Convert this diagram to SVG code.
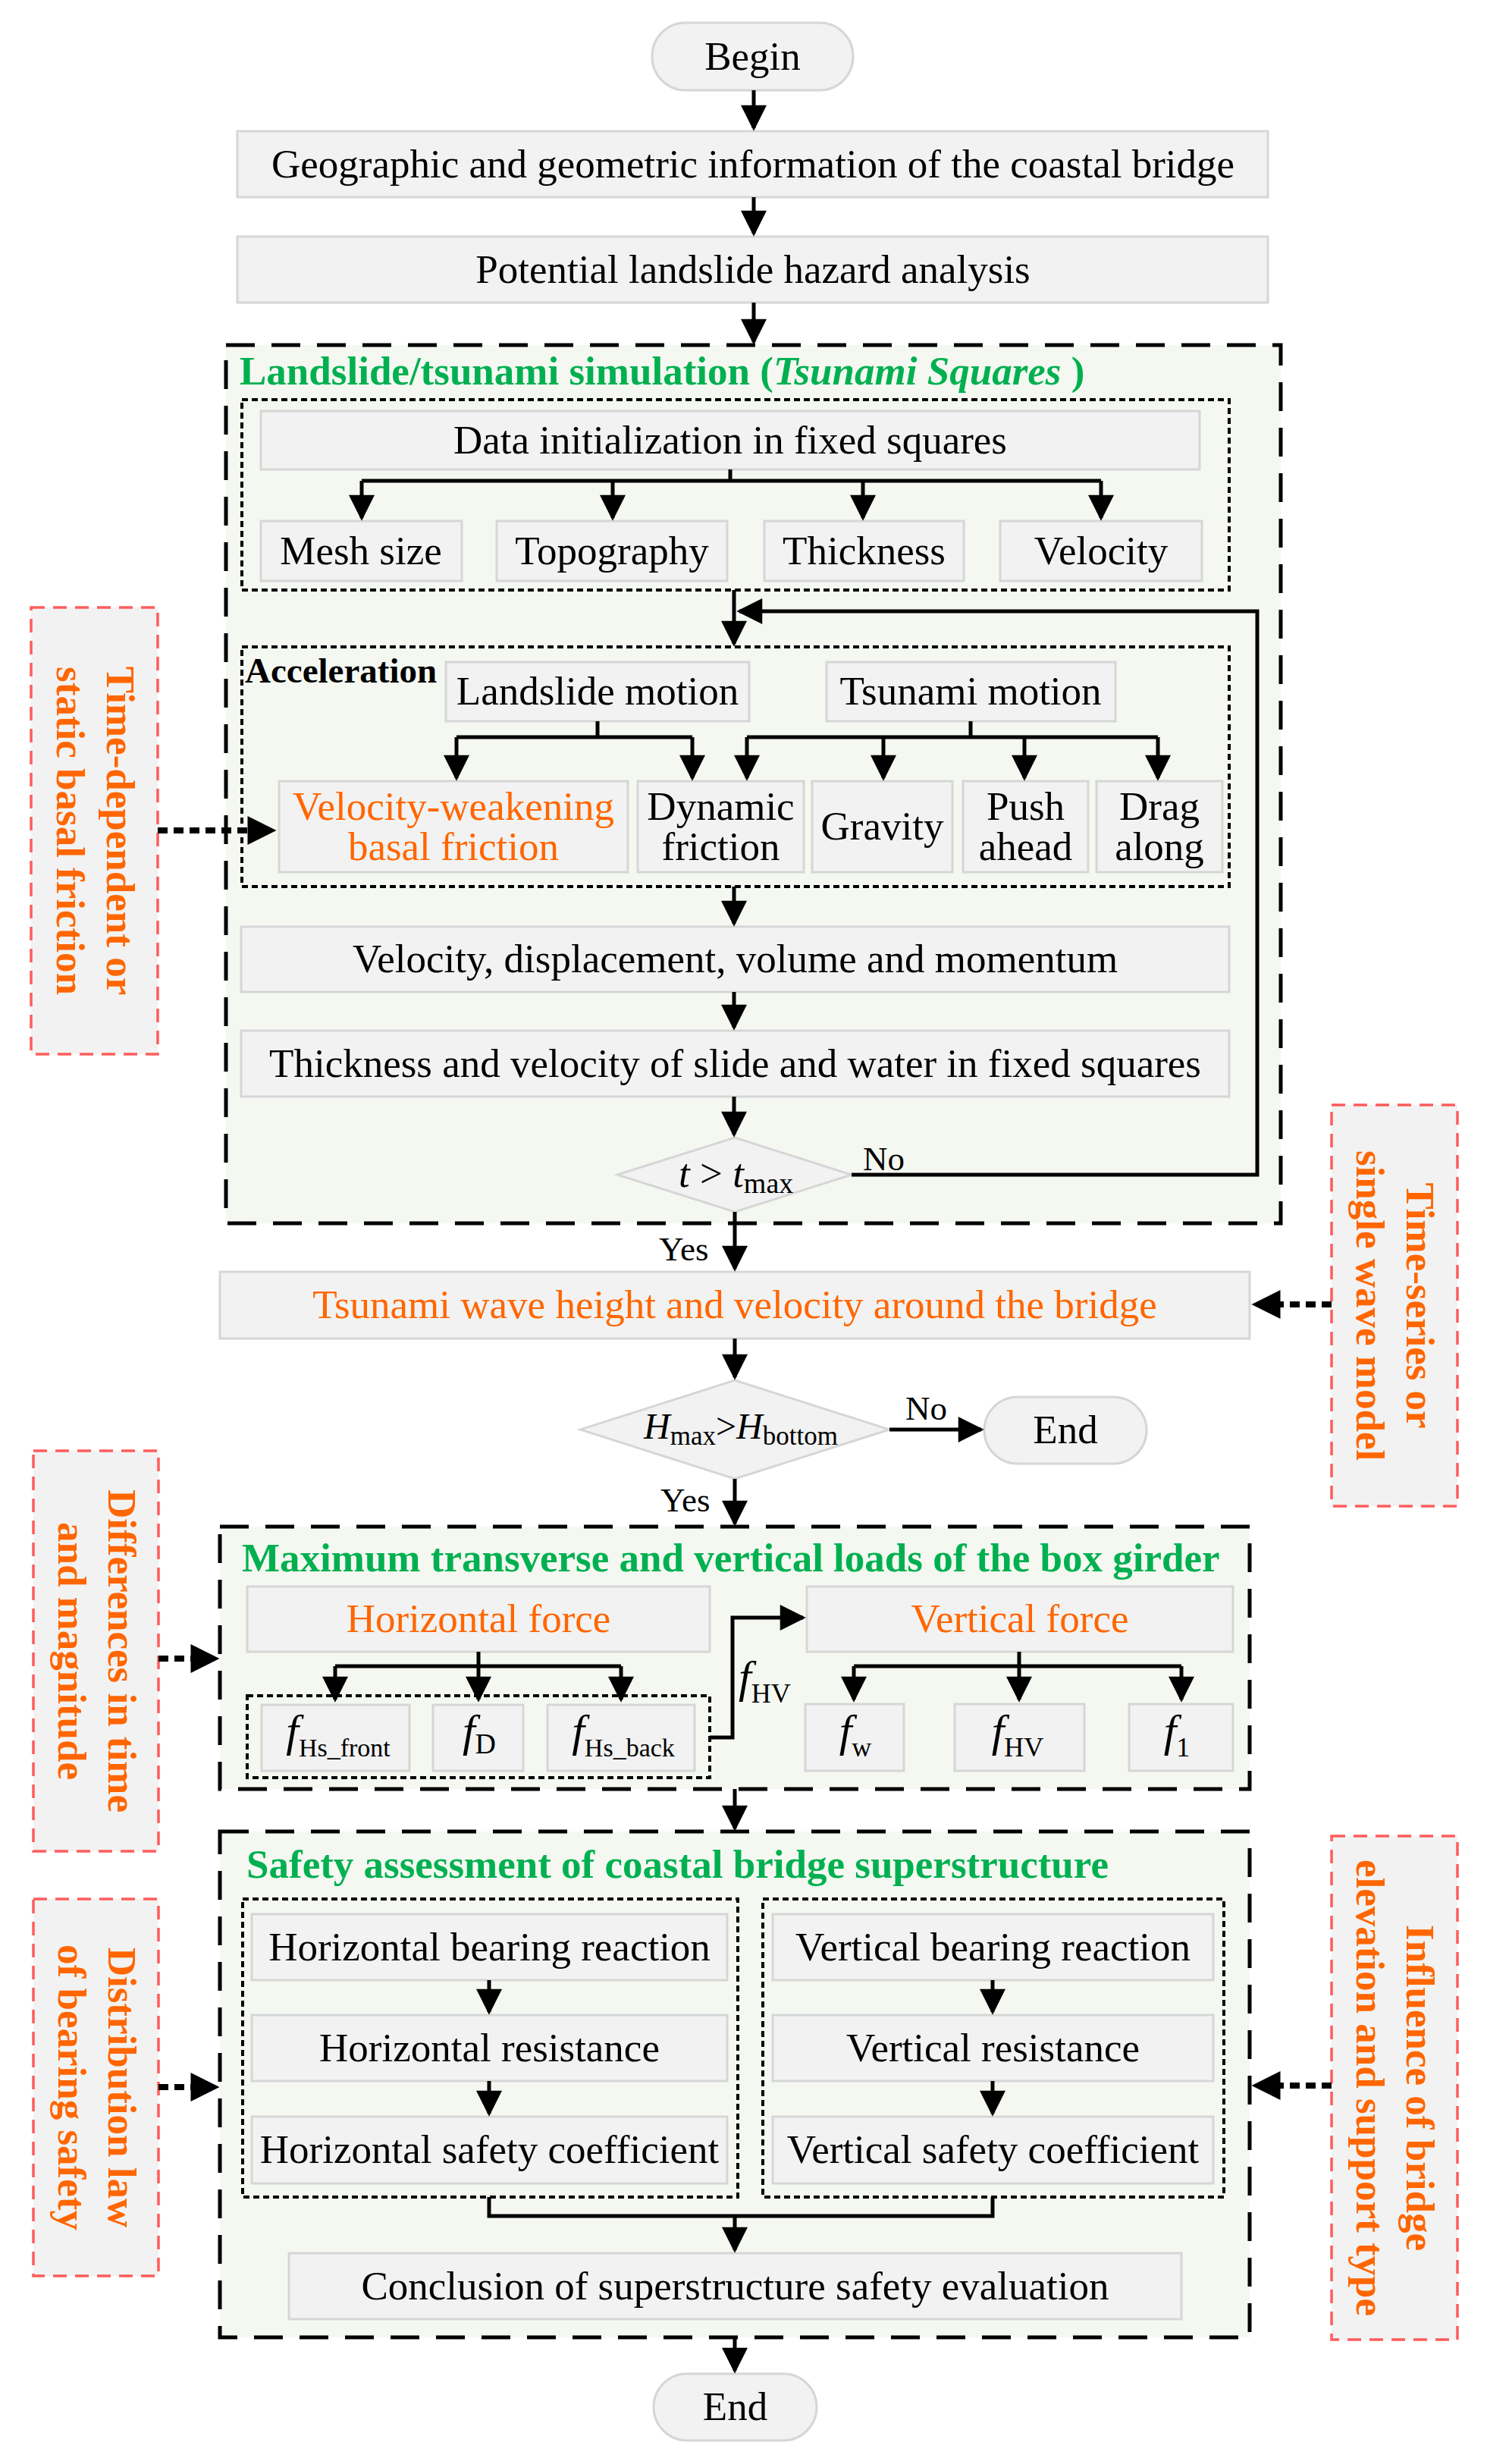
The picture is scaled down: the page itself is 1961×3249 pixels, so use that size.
<svg xmlns="http://www.w3.org/2000/svg" width="1961" height="3249" viewBox="0 0 1961 3249">
<defs>
<style>
.box{fill:#f2f2f2;stroke:#d6d6d6;stroke-width:3}
.grp{fill:#f4f8f1;stroke:#000;stroke-width:5;stroke-dasharray:38 22}
.dot{fill:none;stroke:#000;stroke-width:4;stroke-dasharray:8 5}
.lab{fill:#f2f2f2;stroke:#ff5c5c;stroke-width:3.5;stroke-dasharray:18 11}
.t{font-family:"Liberation Serif","Times New Roman",serif;font-size:53px;fill:#000;text-anchor:middle}
.o{fill:#ff6600}
.g{fill:#00b050;font-weight:bold;text-anchor:start}
.s{text-anchor:start}
.lt{font-weight:bold;fill:#ff6600}
.i{font-style:italic}
.ln{stroke:#000;stroke-width:5;fill:none}
.dl{stroke:#000;stroke-width:8;stroke-dasharray:13 8;fill:none}
</style>
<marker id="ah" viewBox="0 0 10 10" markerUnits="userSpaceOnUse" markerWidth="35" markerHeight="34" refX="8.9" refY="5" orient="auto">
<path d="M0,0 L10,5 L0,10 z" fill="#000"/>
</marker>
<marker id="ah2" viewBox="0 0 10 10" markerUnits="userSpaceOnUse" markerWidth="40" markerHeight="38" refX="7.5" refY="5" orient="auto">
<path d="M0,0 L10,5 L0,10 z" fill="#000"/>
</marker>
</defs>
<rect width="1961" height="3249" fill="#fff"/>

<!-- group containers -->
<g id="group-simulation">
<rect class="grp" x="298" y="455" width="1391" height="1158"/>
<text class="t g" x="316" y="507">Landslide/tsunami simulation (<tspan class="i">Tsunami Squares</tspan> )</text>
<rect class="dot" x="319" y="527" width="1302" height="251"/>
<rect class="dot" x="319" y="853" width="1302" height="316"/>
<text class="t s" x="323" y="900" style="font-weight:bold;font-size:47px">Acceleration</text>
</g>
<g id="group-loads">
<rect class="grp" x="290" y="2013" width="1358" height="346"/>
<text class="t g" x="319" y="2072">Maximum transverse and vertical loads of the box girder</text>
<rect class="dot" x="326" y="2236" width="610" height="108"/>
</g>
<g id="group-safety">
<rect class="grp" x="290" y="2415" width="1358" height="667"/>
<text class="t g" x="325" y="2476">Safety assessment of coastal bridge superstructure</text>
<rect class="dot" x="320" y="2504" width="653" height="393"/>
<rect class="dot" x="1006" y="2504" width="608" height="393"/>
</g>

<!-- nodes -->
<g id="begin"><rect class="box" x="860" y="30" width="265" height="89" rx="44"/><text class="t" x="992.5" y="92">Begin</text></g>
<g id="geo"><rect class="box" x="313" y="173" width="1359" height="87"/><text class="t" x="993" y="234">Geographic and geometric information of the coastal bridge</text></g>
<g id="hazard"><rect class="box" x="313" y="312" width="1359" height="87"/><text class="t" x="993" y="373">Potential landslide hazard analysis</text></g>
<g id="datainit"><rect class="box" x="344" y="542" width="1238" height="77"/><text class="t" x="963" y="598">Data initialization in fixed squares</text></g>
<g id="mesh"><rect class="box" x="344" y="687" width="265" height="79"/><text class="t" x="476" y="744">Mesh size</text></g>
<g id="topo"><rect class="box" x="655" y="687" width="304" height="79"/><text class="t" x="807" y="744">Topography</text></g>
<g id="thick"><rect class="box" x="1008" y="687" width="263" height="79"/><text class="t" x="1139.5" y="744">Thickness</text></g>
<g id="velo"><rect class="box" x="1319" y="687" width="266" height="79"/><text class="t" x="1452" y="744">Velocity</text></g>
<g id="landslide"><rect class="box" x="588" y="873" width="400" height="78"/><text class="t" x="788" y="929">Landslide motion</text></g>
<g id="tsunami"><rect class="box" x="1090" y="873" width="381" height="78"/><text class="t" x="1280" y="929">Tsunami motion</text></g>
<g id="vwbf"><rect class="box" x="368" y="1030" width="460" height="120"/><text class="t o" x="598" y="1081">Velocity-weakening</text><text class="t o" x="598" y="1134">basal friction</text></g>
<g id="dynfric"><rect class="box" x="841" y="1030" width="219" height="120"/><text class="t" x="950.5" y="1081">Dynamic</text><text class="t" x="950.5" y="1134">friction</text></g>
<g id="gravity"><rect class="box" x="1071" y="1030" width="185" height="120"/><text class="t" x="1163.5" y="1107">Gravity</text></g>
<g id="push"><rect class="box" x="1270" y="1030" width="165" height="120"/><text class="t" x="1352.5" y="1081">Push</text><text class="t" x="1352.5" y="1134">ahead</text></g>
<g id="drag"><rect class="box" x="1446" y="1030" width="166" height="120"/><text class="t" x="1529" y="1081">Drag</text><text class="t" x="1529" y="1134">along</text></g>
<g id="vdvm"><rect class="box" x="318" y="1222" width="1303" height="86"/><text class="t" x="969.5" y="1282">Velocity, displacement, volume and momentum</text></g>
<g id="tvsw"><rect class="box" x="318" y="1359" width="1303" height="87"/><text class="t" x="969.5" y="1420">Thickness and velocity of slide and water in fixed squares</text></g>
<g id="dec-t"><polygon class="box" points="969,1500 1123,1549 969,1598 814,1549"/><text class="t s" x="895" y="1565"><tspan class="i">t</tspan> &gt; <tspan class="i">t</tspan><tspan style="font-size:38px" dy="8">max</tspan></text></g>
<g id="wave"><rect class="box" x="290" y="1677" width="1358" height="88"/><text class="t o" x="969" y="1738">Tsunami wave height and velocity around the bridge</text></g>
<g id="dec-h"><polygon class="box" points="969,1820 1173,1885 969,1950 765,1885"/><text class="t s" x="849" y="1897" style="font-size:48px"><tspan class="i">H</tspan><tspan style="font-size:35px" dy="8">max</tspan><tspan dy="-8">&gt;</tspan><tspan class="i">H</tspan><tspan style="font-size:35px" dy="8">bottom</tspan></text></g>
<g id="end1"><rect class="box" x="1298" y="1842" width="214" height="88" rx="44"/><text class="t" x="1405" y="1903">End</text></g>
<g id="hforce"><rect class="box" x="326" y="2092" width="610" height="86"/><text class="t o" x="631" y="2152">Horizontal force</text></g>
<g id="vforce"><rect class="box" x="1064" y="2092" width="562" height="86"/><text class="t o" x="1345" y="2152">Vertical force</text></g>
<g id="f-hsfront"><rect class="box" x="345" y="2248" width="195" height="87"/><text class="t" x="446" y="2302"><tspan class="i" style="font-size:60px">f</tspan><tspan style="font-size:34px" dy="14">Hs_front</tspan></text></g>
<g id="f-d"><rect class="box" x="571" y="2248" width="119" height="87"/><text class="t" x="632" y="2302"><tspan class="i" style="font-size:60px">f</tspan><tspan style="font-size:38px" dy="10">D</tspan></text></g>
<g id="f-hsback"><rect class="box" x="722" y="2248" width="194" height="87"/><text class="t" x="822" y="2302"><tspan class="i" style="font-size:60px">f</tspan><tspan style="font-size:34px" dy="14">Hs_back</tspan></text></g>
<g id="f-w"><rect class="box" x="1062" y="2247" width="130" height="88"/><text class="t" x="1128" y="2302"><tspan class="i" style="font-size:60px">f</tspan><tspan style="font-size:36px" dy="14">w</tspan></text></g>
<g id="f-hv"><rect class="box" x="1259" y="2247" width="171" height="88"/><text class="t" x="1342" y="2302"><tspan class="i" style="font-size:60px">f</tspan><tspan style="font-size:36px" dy="14">HV</tspan></text></g>
<g id="f-1"><rect class="box" x="1489" y="2247" width="137" height="88"/><text class="t" x="1552" y="2302"><tspan class="i" style="font-size:60px">f</tspan><tspan style="font-size:36px" dy="14">1</tspan></text></g>
<g id="hbr"><rect class="box" x="332" y="2524" width="627" height="87"/><text class="t" x="645.5" y="2585">Horizontal bearing reaction</text></g>
<g id="hres"><rect class="box" x="332" y="2657" width="627" height="87"/><text class="t" x="645.5" y="2718">Horizontal resistance</text></g>
<g id="hsc"><rect class="box" x="332" y="2791" width="627" height="88"/><text class="t" x="645.5" y="2852">Horizontal safety coefficient</text></g>
<g id="vbr"><rect class="box" x="1019" y="2524" width="581" height="87"/><text class="t" x="1309.5" y="2585">Vertical bearing reaction</text></g>
<g id="vres"><rect class="box" x="1019" y="2657" width="581" height="87"/><text class="t" x="1309.5" y="2718">Vertical resistance</text></g>
<g id="vsc"><rect class="box" x="1019" y="2791" width="581" height="88"/><text class="t" x="1309.5" y="2852">Vertical safety coefficient</text></g>
<g id="conclusion"><rect class="box" x="381" y="2971" width="1177" height="87"/><text class="t" x="969.5" y="3032">Conclusion of superstructure safety evaluation</text></g>
<g id="end2"><rect class="box" x="862" y="3130" width="215" height="88" rx="44"/><text class="t" x="969.5" y="3191">End</text></g>

<!-- side labels -->
<g id="label-basal"><rect class="lab" x="41" y="801" width="167" height="589"/><text class="t lt" transform="translate(124.5,1095.5) rotate(90)"><tspan x="0" y="-16">Time-dependent or</tspan><tspan x="0" y="50">static basal friction</tspan></text></g>
<g id="label-wave"><rect class="lab" x="1756" y="1457" width="166" height="529"/><text class="t lt" transform="translate(1839,1721.5) rotate(90)"><tspan x="0" y="-16">Time-series or</tspan><tspan x="0" y="50">single wave model</tspan></text></g>
<g id="label-diff"><rect class="lab" x="44" y="1913" width="165" height="528"/><text class="t lt" transform="translate(126.5,2177) rotate(90)"><tspan x="0" y="-16">Differences in time</tspan><tspan x="0" y="50">and magnitude</tspan></text></g>
<g id="label-dist"><rect class="lab" x="44" y="2504" width="165" height="497"/><text class="t lt" transform="translate(126.5,2752.5) rotate(90)"><tspan x="0" y="-16">Distribution law</tspan><tspan x="0" y="50">of bearing safety</tspan></text></g>
<g id="label-infl"><rect class="lab" x="1756" y="2421" width="166" height="664"/><text class="t lt" transform="translate(1839,2753) rotate(90)"><tspan x="0" y="-16">Influence of bridge</tspan><tspan x="0" y="50">elevation and support type</tspan></text></g>

<!-- connectors -->
<g id="connectors">
<path class="ln" d="M994 119V169" marker-end="url(#ah)"/>
<path class="ln" d="M994 260V308" marker-end="url(#ah)"/>
<path class="ln" d="M994 399V451" marker-end="url(#ah)"/>
<path class="ln" d="M963 619V634M477 634H1452"/>
<path class="ln" d="M477 634V683" marker-end="url(#ah)"/>
<path class="ln" d="M808 634V683" marker-end="url(#ah)"/>
<path class="ln" d="M1138 634V683" marker-end="url(#ah)"/>
<path class="ln" d="M1452 634V683" marker-end="url(#ah)"/>
<path class="ln" d="M968 778V849" marker-end="url(#ah)"/>
<path class="ln" d="M1123 1549H1658V806H975" marker-end="url(#ah)"/>
<path class="ln" d="M788 951V972M602 972H913"/>
<path class="ln" d="M602 972V1026" marker-end="url(#ah)"/>
<path class="ln" d="M913 972V1026" marker-end="url(#ah)"/>
<path class="ln" d="M1280 951V972M985 972H1527"/>
<path class="ln" d="M985 972V1026" marker-end="url(#ah)"/>
<path class="ln" d="M1165 972V1026" marker-end="url(#ah)"/>
<path class="ln" d="M1351 972V1026" marker-end="url(#ah)"/>
<path class="ln" d="M1527 972V1026" marker-end="url(#ah)"/>
<path class="ln" d="M968 1169V1218" marker-end="url(#ah)"/>
<path class="ln" d="M968 1308V1355" marker-end="url(#ah)"/>
<path class="ln" d="M968 1446V1496" marker-end="url(#ah)"/>
<path class="ln" d="M969 1598V1673" marker-end="url(#ah)"/>
<path class="ln" d="M969 1765V1816" marker-end="url(#ah)"/>
<path class="ln" d="M1173 1885H1294" marker-end="url(#ah)"/>
<path class="ln" d="M969 1950V2009" marker-end="url(#ah)"/>
<path class="ln" d="M631 2178V2197M442 2197H819"/>
<path class="ln" d="M442 2197V2241" marker-end="url(#ah)"/>
<path class="ln" d="M631 2197V2241" marker-end="url(#ah)"/>
<path class="ln" d="M819 2197V2241" marker-end="url(#ah)"/>
<path class="ln" d="M936 2291H966V2133H1059" marker-end="url(#ah)"/>
<path class="ln" d="M1344 2178V2197M1126 2197H1558"/>
<path class="ln" d="M1126 2197V2241" marker-end="url(#ah)"/>
<path class="ln" d="M1344 2197V2241" marker-end="url(#ah)"/>
<path class="ln" d="M1558 2197V2241" marker-end="url(#ah)"/>
<path class="ln" d="M969 2359V2411" marker-end="url(#ah)"/>
<path class="ln" d="M645 2611V2653" marker-end="url(#ah)"/>
<path class="ln" d="M645 2744V2787" marker-end="url(#ah)"/>
<path class="ln" d="M1309 2611V2653" marker-end="url(#ah)"/>
<path class="ln" d="M1309 2744V2787" marker-end="url(#ah)"/>
<path class="ln" d="M645 2897V2922H1309V2897"/>
<path class="ln" d="M969 2922V2967" marker-end="url(#ah)"/>
<path class="ln" d="M969 3082V3126" marker-end="url(#ah)"/>
<path class="dl" d="M208 1095H355" marker-end="url(#ah2)"/>
<path class="dl" d="M1756 1720H1660" marker-end="url(#ah2)"/>
<path class="dl" d="M209 2187H280" marker-end="url(#ah2)"/>
<path class="dl" d="M209 2752H280" marker-end="url(#ah2)"/>
<path class="dl" d="M1756 2750H1660" marker-end="url(#ah2)"/>
<text class="t s" x="1138" y="1543" style="font-size:45px">No</text>
<text class="t s" x="869" y="1662" style="font-size:45px">Yes</text>
<text class="t s" x="1194" y="1872" style="font-size:45px">No</text>
<text class="t s" x="871" y="1993" style="font-size:45px">Yes</text>
<text class="t s" x="974" y="2231"><tspan class="i" style="font-size:60px">f</tspan><tspan style="font-size:36px" dy="14">HV</tspan></text>
</g>
</svg>
